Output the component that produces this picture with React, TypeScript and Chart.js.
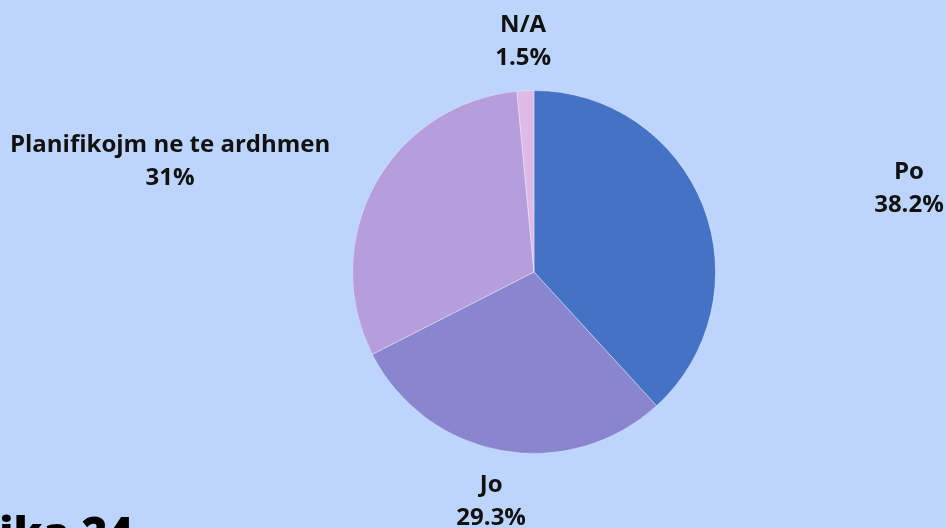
import React, { useEffect, useRef } from "react";
import { Chart, registerables } from "chart.js";

Chart.register(...registerables);

const categories = ["Po", "Jo", "Planifikojm ne te ardhmen", "N/A"];
const values = [38.2, 29.3, 31, 1.5];
const valueLabels = ["38.2%", "29.3%", "31%", "1.5%"];
const colors = ["#4472C4", "#8986CF", "#B59EDB", "#DDBAE8"];
// label placement relative to pie centre, in units of the pie radius
const labelOffsets = [
  [2.066, -0.46],
  [-0.236, 1.264],
  [-2.005, -0.61],
  [-0.06, -1.27],
];

const labelPlugin = {
  id: "sliceLabels",
  afterDatasetsDraw(chart: any) {
    const meta = chart.getDatasetMeta(0);
    const ctx = chart.ctx;
    ctx.save();
    ctx.fillStyle = "#111";
    ctx.font = "bold 24px 'Open Sans'";
    ctx.textAlign = "center";
    ctx.textBaseline = "middle";
    meta.data.forEach((arc: any, i: number) => {
      const { x, y, outerRadius } = arc.getProps(["x", "y", "outerRadius"], true);
      const lx = x + labelOffsets[i][0] * outerRadius;
      const ly = y + labelOffsets[i][1] * outerRadius;
      ctx.fillText(categories[i], lx, ly - 16.5);
      ctx.fillText(valueLabels[i], lx, ly + 16.5);
    });
    ctx.restore();
  },
};

export default function App() {
  const ref = useRef<HTMLCanvasElement>(null);
  useEffect(() => {
    const chart = new Chart(ref.current!, {
      type: "pie",
      data: {
        labels: categories,
        datasets: [
          {
            data: values,
            backgroundColor: colors,
            borderColor: "rgba(255,255,255,0.35)",
            borderWidth: 1,
          },
        ],
      },
      options: {
        animation: false,
        responsive: false,
        maintainAspectRatio: false,
        layout: { padding: { left: 352, right: 230, top: 90, bottom: 74 } },
        plugins: {
          legend: { display: false },
          tooltip: { enabled: false },
        },
      },
      plugins: [labelPlugin],
    });
    return () => chart.destroy();
  }, []);

  return (
    <div
      style={{
        position: "fixed",
        left: 0,
        top: 0,
        width: 946,
        height: 528,
        overflow: "hidden",
        background: "#BDD5FC",
      }}
    >
      <canvas ref={ref} width={946} height={528} style={{ position: "absolute", left: 0, top: 0 }} />
      <div
        style={{
          position: "absolute",
          right: 813,
          top: 510,
          whiteSpace: "nowrap",
          fontFamily: "'Open Sans', sans-serif",
          fontWeight: 800,
          fontSize: 44,
          lineHeight: "44px",
          color: "#000",
        }}
      >
        Grafika 24
      </div>
    </div>
  );
}
